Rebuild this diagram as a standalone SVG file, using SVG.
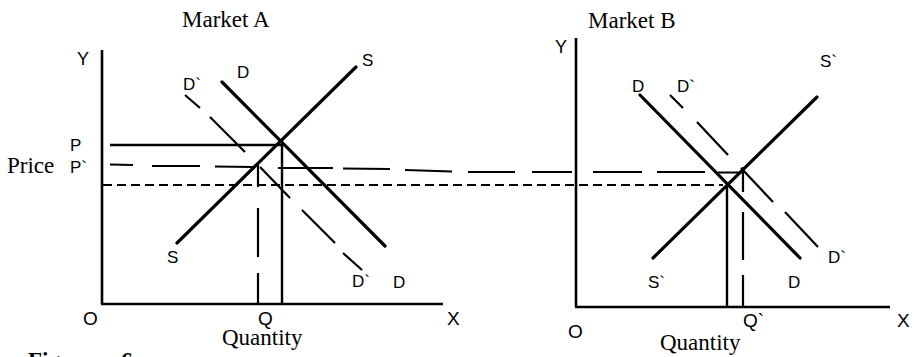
<svg xmlns="http://www.w3.org/2000/svg" width="918" height="357" viewBox="0 0 918 357">
<style>
.bg{fill:#fff}
.axis{stroke:#000;stroke-width:2.6;fill:none}
.curve{stroke:#000;stroke-width:3.2;fill:none;stroke-linecap:round}
.guide{stroke:#000;stroke-width:2.4;fill:none}
.dash{stroke:#000;stroke-width:2.2;fill:none}
.fine{stroke:#000;stroke-width:2;fill:none;stroke-dasharray:9 5}
.ser{font-family:"Liberation Serif","Times New Roman",serif;font-size:23px;fill:#000}
.lbl{font-family:"Liberation Sans",Arial,sans-serif;font-size:17px;fill:#000}
.ax{font-family:"Liberation Sans",Arial,sans-serif;font-size:19px;fill:#000}
.fig{font-family:"Liberation Serif","Times New Roman",serif;font-size:23px;font-weight:bold;fill:#000}
</style>
<rect class="bg" x="0" y="0" width="918" height="357"/>

<g id="market-a">
  <text class="ser" x="182" y="27">Market A</text>
  <path class="axis" d="M102,50 V304 M101,304 H443"/>
  <text class="lbl" x="77" y="65" style="font-size:18px">Y</text>
  <text class="ax" x="83" y="325">O</text>
  <text class="ax" x="258" y="325">Q</text>
  <text class="ax" x="447" y="325">X</text>
  <text class="ser" x="222" y="345">Quantity</text>
  <text class="ser" x="7" y="173">Price</text>
  <text class="lbl" x="70" y="151">P</text>
  <text class="lbl" x="70" y="173">P`</text>
  <line class="curve" x1="177" y1="243" x2="356" y2="67"/>
  <line class="curve" x1="222" y1="82" x2="385" y2="246"/>
  <path class="dash" d="M185,95 L200,108 M210,117 L245,152 M260,167 L290,198 M302,210 L335,243 M343,253 L362,270"/>
  <path class="guide" d="M110,145 H282 M282,143 V304"/>
  <path class="dash" d="M258,165 V187 M258,208 V257 M258,273 V304"/>
  <text class="lbl" x="362" y="66">S</text>
  <text class="lbl" x="237" y="78">D</text>
  <text class="lbl" x="183" y="90">D`</text>
  <text class="lbl" x="167" y="263">S</text>
  <text class="lbl" x="352" y="287">D`</text>
  <text class="lbl" x="393" y="288">D</text>
</g>

<g id="market-b">
  <text class="ser" x="588" y="28">Market B</text>
  <path class="axis" d="M576,38 V307 M575,307 H890"/>
  <text class="lbl" x="555" y="53" style="font-size:18px">Y</text>
  <text class="ax" x="568" y="338">O</text>
  <text class="ax" x="743" y="327">Q`</text>
  <text class="ax" x="897" y="327">X</text>
  <text class="ser" x="660" y="350">Quantity</text>
  <line class="curve" x1="640" y1="95" x2="800" y2="258"/>
  <line class="curve" x1="653" y1="258" x2="817" y2="97"/>
  <path class="dash" d="M670,95 L683,108 M697,122 L728,155 M741,168 L773,202 M785,212 L818,247"/>
  <path class="guide" d="M727,185 V307"/>
  <path class="dash" d="M743,167 V192 M743,212 V260 M743,275 V307"/>
  <text class="lbl" x="632" y="92">D</text>
  <text class="lbl" x="677" y="92">D`</text>
  <text class="lbl" x="820" y="67">S`</text>
  <text class="lbl" x="648" y="288">S`</text>
  <text class="lbl" x="788" y="288">D</text>
  <text class="lbl" x="828" y="263">D`</text>
</g>

<g id="connectors">
  <path class="dash" d="M110,164.5 L133,165 M152,166 L200,166 M215,166.5 L253,167 M278,168 L333,168 M343,168.5 L390,169 M405,170 L452,171.5 M468,172 L515,172 M532,172 L572,172 M593,172 L642,172 M657,172 L705,172 M718,172.5 L743,172.5"/>
  <line class="fine" x1="103" y1="185" x2="723" y2="185"/>
</g>

<text class="fig" x="28" y="368">Figure<tspan x="121">6</tspan></text>
</svg>
